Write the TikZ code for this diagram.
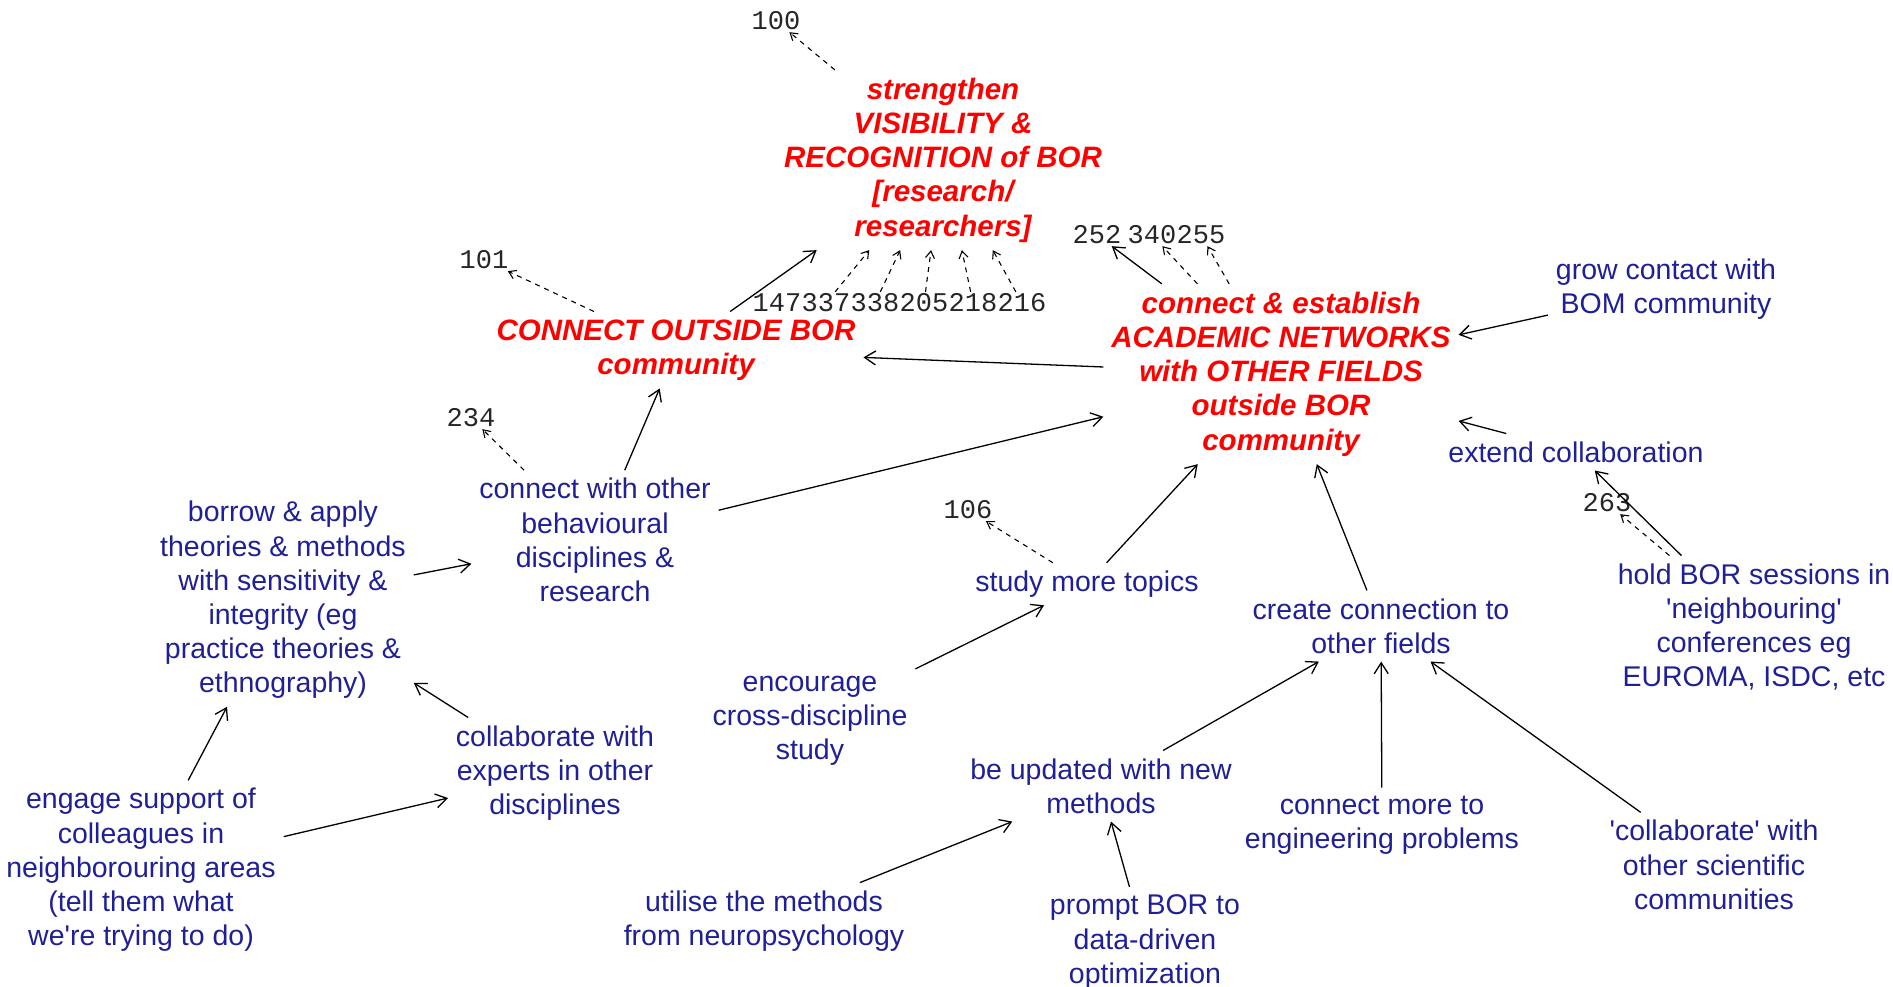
\documentclass[tikz,border=0pt]{standalone}
\usepackage{fontspec}
\setmainfont{Liberation Sans}
\newfontfamily\numfont{Liberation Mono}
\usetikzlibrary{arrows.meta,positioning}

\definecolor{goalred}{RGB}{255,0,0}
\definecolor{conceptblue}{RGB}{32,32,150}

\tikzset{
  concept/.style={align=center, text=conceptblue, font=\fontsize{28.5}{34.2}\selectfont, inner sep=2pt, outer sep=6pt, yshift=-4pt},
  goal/.style={concept, text=goalred, font=\fontsize{29.5}{34.2}\selectfont\bfseries\itshape},
  refnum/.style={font=\numfont\fontsize{27}{27}\selectfont, text=black!85, inner sep=1pt, outer sep=1pt},
  link/.style={->, line width=1.3pt},
  reflink/.style={->, line width=1.1pt, dash pattern=on 5pt off 5pt, >={Straight Barb[length=7pt,width=9pt]}},
}

\begin{document}
\begin{tikzpicture}[x=1pt, y=-1pt, node distance=49pt, on grid, >={Straight Barb[length=11pt,width=14pt]}]
  \useasboundingbox (0,0) rectangle (1893,987);

  \node[goal] (c_vis) at (943,156) {strengthen\\VISIBILITY \&\\RECOGNITION of BOR\\{[}research/\\researchers]};
  \node[goal] (c_out) at (676,346) {CONNECT OUTSIDE BOR\\community};
  \node[goal] (c_net) at (1281,370) {connect \& establish\\ACADEMIC NETWORKS\\with OTHER FIELDS\\outside BOR\\community};

  \node[concept] (c_grow) at (1666,285) {grow contact with\\BOM community};
  \node[concept] (c_ext) at (1576,448) {extend collaboration};
  \node[concept] (c_hold) at (1754,623) {hold BOR sessions in\\\textquotesingle neighbouring\textquotesingle\\conferences eg\\EUROMA, ISDC, etc};
  \node[concept] (c_create) at (1381,622) {create connection to\\other fields};
  \node[concept] (c_study) at (1087,580) {study more topics};
  \node[concept] (c_behav) at (595,536) {connect with other\\behavioural\\disciplines \&\\research};
  \node[concept] (c_borrow) at (283,596) {borrow \& apply\\theories \& methods\\with sensitivity \&\\integrity (eg\\practice theories \&\\ethnography)};
  \node[concept] (c_collab) at (555,769) {collaborate with\\experts in other\\disciplines};
  \node[concept] (c_engage) at (141,866) {engage support of\\colleagues in\\neighborouring areas\\(tell them what\\we\textquotesingle re trying to do)};
  \node[concept] (c_enc) at (810,717) {encourage\\cross-discipline\\study};
  \node[concept] (c_upd) at (1101,782) {be updated with new\\methods};
  \node[concept] (c_util) at (764,917) {utilise the methods\\from neuropsychology};
  \node[concept] (c_prompt) at (1145,938) {prompt BOR to\\data-driven\\optimization};
  \node[concept] (c_eng) at (1382,821) {connect more to\\engineering problems};
  \node[concept] (c_sci) at (1714,861) {\textquotesingle collaborate\textquotesingle{} with\\other scientific\\communities};

  \node[refnum] (r_100) at (776,21) {100};
  \node[refnum] (r_101) at (484,260) {101};
  \node[refnum] (r_234) at (471,418) {234};
  \node[refnum] (r_106) at (968,510) {106};
  \node[refnum] (r_263) at (1607,503) {263};
  \node[refnum] (r_147) at (777,303) {147};
  \node[refnum] (r_337) [right=of r_147] {337};
  \node[refnum] (r_338) [right=of r_337] {338};
  \node[refnum] (r_205) [right=of r_338] {205};
  \node[refnum] (r_218) [right=of r_205] {218};
  \node[refnum] (r_216) [right=of r_218] {216};
  \node[refnum] (r_252) at (1097,235) {252};
  \node[refnum] (r_340) [right=of r_252, xshift=6pt] {340};
  \node[refnum] (r_255) [right=of r_340] {255};

  \path[link]
    (c_out)    edge (c_vis)
    (c_net)    edge (c_out)
               edge (r_252)
    (c_behav)  edge (c_out)
               edge (c_net)
    (c_borrow) edge (c_behav)
    (c_collab) edge (c_borrow)
    (c_engage) edge (c_borrow)
               edge (c_collab)
    (c_enc)    edge (c_study)
    (c_study)  edge (c_net)
    (c_create) edge (c_net)
    (c_grow)   edge (c_net)
    (c_ext)    edge (c_net)
    (c_hold)   edge (c_ext)
    (c_upd)    edge (c_create)
    (c_util)   edge (c_upd)
    (c_prompt) edge (c_upd)
    (c_eng)    edge (c_create)
    (c_sci)    edge (c_create);

  \path[reflink]
    (c_vis)   edge (r_100)
    (c_out)   edge (r_101)
    (c_behav) edge (r_234)
    (c_study) edge (r_106)
    (c_hold)  edge (r_263)
    (c_net)   edge (r_340)
              edge (r_255)
    (r_337)   edge (c_vis)
    (r_338)   edge (c_vis)
    (r_205)   edge (c_vis)
    (r_218)   edge (c_vis)
    (r_216)   edge (c_vis);
\end{tikzpicture}
\end{document}
